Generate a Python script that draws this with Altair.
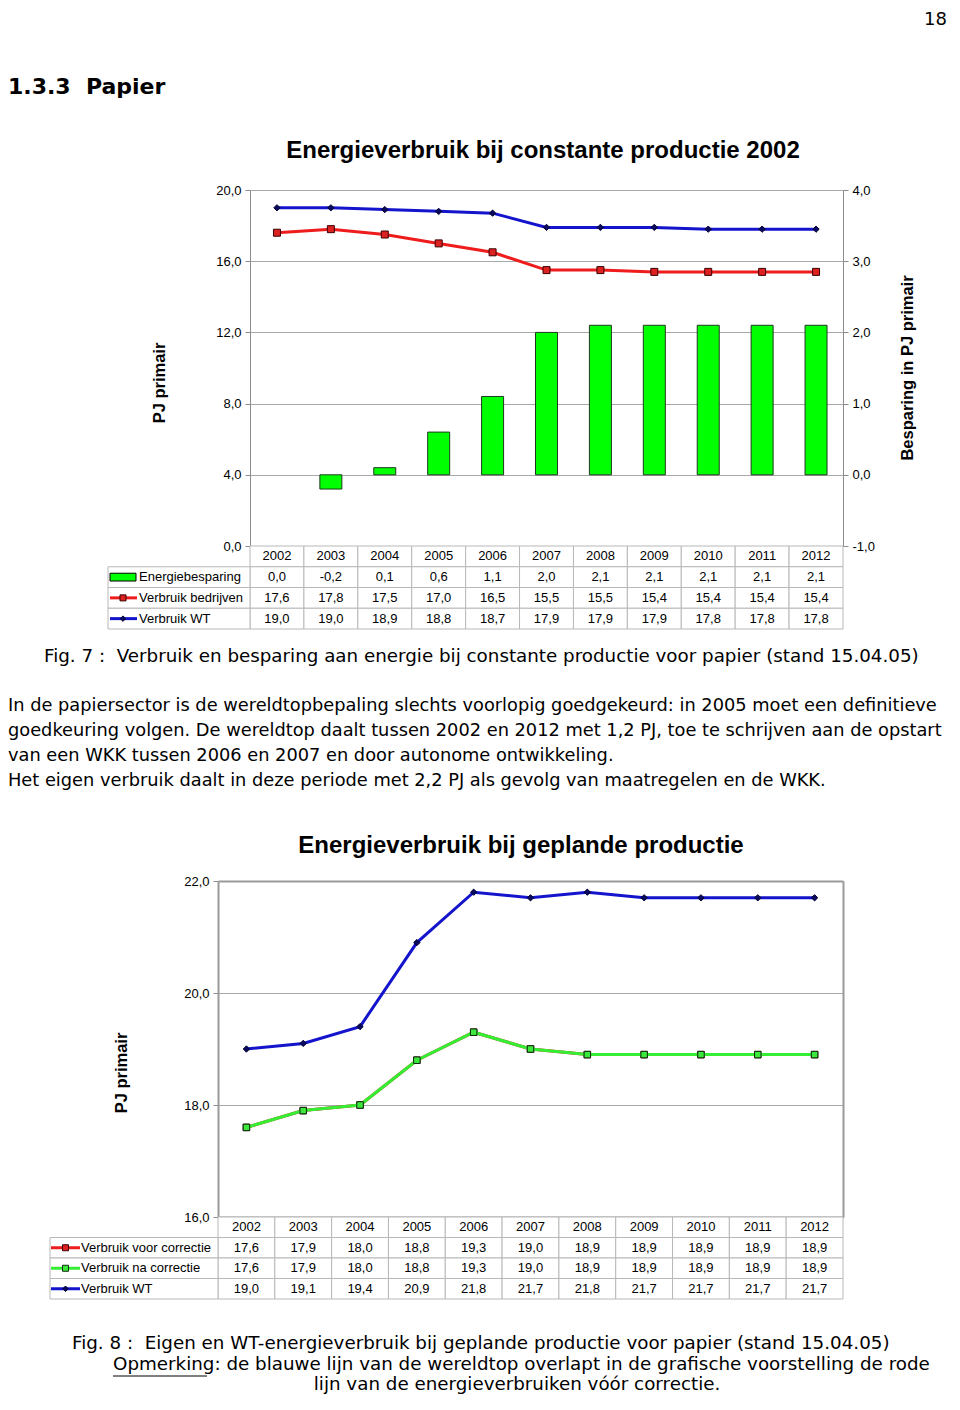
import altair as alt
import pandas as pd

# ---------------- data ----------------
years = ["2002", "2003", "2004", "2005", "2006", "2007", "2008", "2009", "2010", "2011", "2012"]

# Figure 7 (constante productie 2002)
besparing = [0.0, -0.2, 0.1, 0.6, 1.1, 2.0, 2.1, 2.1, 2.1, 2.1, 2.1]
verbruik_bedrijven = [17.6, 17.8, 17.5, 17.0, 16.5, 15.5, 15.5, 15.4, 15.4, 15.4, 15.4]
verbruik_wt_1 = [19.0, 19.0, 18.9, 18.8, 18.7, 17.9, 17.9, 17.9, 17.8, 17.8, 17.8]
left_ticks_1 = [0, 4, 8, 12, 16, 20]
right_ticks_1 = [-1, 0, 1, 2, 3, 4]
rows_1 = ["hdr", "Energiebesparing", "Verbruik bedrijven", "Verbruik WT"]

# Figure 8 (geplande productie)
voor_correctie = [17.6, 17.9, 18.0, 18.8, 19.3, 19.0, 18.9, 18.9, 18.9, 18.9, 18.9]
na_correctie = [17.6, 17.9, 18.0, 18.8, 19.3, 19.0, 18.9, 18.9, 18.9, 18.9, 18.9]
verbruik_wt_2 = [19.0, 19.1, 19.4, 20.9, 21.8, 21.7, 21.8, 21.7, 21.7, 21.7, 21.7]
left_ticks_2 = [16, 18, 20, 22]
rows_2 = ["hdr", "Verbruik voor correctie", "Verbruik na correctie", "Verbruik WT"]

paragraph = [
    "In de papiersector is de wereldtopbepaling slechts voorlopig goedgekeurd: in 2005 moet een definitieve",
    "goedkeuring volgen. De wereldtop daalt tussen 2002 en 2012 met 1,2 PJ, toe te schrijven aan de opstart",
    "van een WKK tussen 2006 en 2007 en door autonome ontwikkeling.",
    "Het eigen verbruik daalt in deze periode met 2,2 PJ als gevolg van maatregelen en de WKK.",
]

# ---------------- layout (page coordinates -> view coordinates) ----------------
W, H = 944, 1388
OX, OY = 8, 8


def px(x):
    return x - OX


def py(y):
    return y - OY


CHART_FONT = "Liberation Sans"
PAGE_FONT = "DejaVu Sans"
FMT = "(datum.value < 0 ? '-' : '') + replace(format(abs(datum.value), '.1f'), '.', ',')"


def fmt(v):
    return f"{v:.1f}".replace(".", ",")


def band(domain, rng):
    return alt.Scale(type="band", domain=domain, range=rng, paddingInner=0, paddingOuter=0)


X1 = band(years, [px(250), px(843)])
X2 = band(years, [px(218), px(843)])
Y1L = alt.Scale(domain=[0, 20], range=[py(546), py(190)], nice=False, zero=False)
Y1R = alt.Scale(domain=[-1, 4], range=[py(546), py(190)], nice=False, zero=False)
Y2 = alt.Scale(domain=[16, 22], range=[py(1217), py(881)], nice=False, zero=False)
R1 = band(rows_1, [py(546), py(629)])
R2 = band(rows_2, [py(1217), py(1299)])
L1 = band(["legend"], [px(108), px(250)])
L2 = band(["legend"], [px(50), px(218)])

GRID = "#a8a8a8"
AX = "#8c8c8c"
TABLE = "#b8b8b8"
BORDER = "#9a9a9a"

df1 = pd.DataFrame({"year": years, "besparing": besparing,
                    "bedrijven": verbruik_bedrijven, "wt": verbruik_wt_1})
df2 = pd.DataFrame({"year": years, "voor": voor_correctie,
                    "na": na_correctie, "wt": verbruik_wt_2})

layers = []

# ---------------- Figure 7 chart ----------------
ax1L = alt.Axis(orient="left", offset=-px(250), values=left_ticks_1, labelExpr=FMT,
                grid=True, gridColor=GRID, gridWidth=1, domainColor=AX, domainWidth=1,
                tickColor=AX, tickSize=5, labelFont=CHART_FONT, labelFontSize=13,
                labelColor="black", labelPadding=4, title=None)
ax1R = alt.Axis(orient="right", offset=-(W - px(843)), values=right_ticks_1, labelExpr=FMT,
                grid=False, domainColor=AX, domainWidth=1, tickColor=AX, tickSize=5,
                labelFont=CHART_FONT, labelFontSize=13, labelColor="black",
                labelPadding=4, title=None)

xa1 = alt.X("year:N", scale=X1, axis=None)

layers.append(alt.Chart(df1).mark_bar(size=22, fill="#00ff00", strokeWidth=1)
              .encode(x=xa1, y=alt.Y("besparing:Q", scale=Y1R, axis=ax1R),
                      stroke=alt.condition("datum.besparing == 0", alt.value("transparent"),
                                           alt.value("#1e3a1e"))))
layers.append(alt.Chart(df1).mark_line(color="#ee1c1c", strokeWidth=3)
              .encode(x=xa1, y=alt.Y("bedrijven:Q", scale=Y1L, axis=ax1L)))
layers.append(alt.Chart(df1).mark_point(shape="square", size=49, filled=True, fill="#dd2020",
                                        stroke="#3a0000", strokeWidth=1, opacity=1)
              .encode(x=xa1, y=alt.Y("bedrijven:Q", scale=Y1L, axis=None)))
layers.append(alt.Chart(df1).mark_line(color="#1414cc", strokeWidth=3)
              .encode(x=xa1, y=alt.Y("wt:Q", scale=Y1L, axis=None)))
layers.append(alt.Chart(df1).mark_point(shape="diamond", size=40, filled=True, fill="#0a0a60",
                                        stroke="#000030", strokeWidth=1, opacity=1)
              .encode(x=xa1, y=alt.Y("wt:Q", scale=Y1L, axis=None)))

# table 1
tab1 = []
for i, y in enumerate(years):
    tab1.append({"year": y, "row": "hdr", "label": y})
    tab1.append({"year": y, "row": rows_1[1], "label": fmt(besparing[i])})
    tab1.append({"year": y, "row": rows_1[2], "label": fmt(verbruik_bedrijven[i])})
    tab1.append({"year": y, "row": rows_1[3], "label": fmt(verbruik_wt_1[i])})
tab1 = pd.DataFrame(tab1)
ya1 = alt.Y("row:N", scale=R1, axis=None)
layers.append(alt.Chart(tab1).mark_rect(fill="white", stroke=TABLE, strokeWidth=1)
              .encode(x=xa1, y=ya1))
layers.append(alt.Chart(tab1).mark_text(font=CHART_FONT, fontSize=13, color="black")
              .encode(x=xa1, y=ya1, text="label:N"))
leg1 = pd.DataFrame({"col": ["legend"] * 3, "row": rows_1[1:]})
layers.append(alt.Chart(leg1).mark_rect(fill="white", stroke=TABLE, strokeWidth=1)
              .encode(x=alt.X("col:N", scale=L1, axis=None), y=ya1))
layers.append(alt.Chart(leg1).mark_text(font=CHART_FONT, fontSize=13, color="black", align="left")
              .encode(x=alt.value(px(139)), y=ya1, text="row:N"))
# legend swatches table 1
layers.append(alt.Chart(pd.DataFrame({"row": [rows_1[1]]}))
              .mark_point(shape="M-1,-0.3L1,-0.3L1,0.3L-1,0.3Z", size=676, filled=True,
                          fill="#00ff00", stroke="black", strokeWidth=1, opacity=1)
              .encode(x=alt.value(px(123)), y=ya1))
for row, lc, pf, ps, shape in [
    (rows_1[2], "#ee1c1c", "#dd2020", "#3a0000", "square"),
    (rows_1[3], "#1414cc", "#0a0a60", "#000030", "diamond"),
]:
    d = pd.DataFrame({"row": [row]})
    layers.append(alt.Chart(d).mark_rule(color=lc, strokeWidth=3)
                  .encode(x=alt.value(px(110)), x2=alt.value(px(137)), y=ya1))
    layers.append(alt.Chart(d).mark_point(shape=shape, size=36 if shape == "square" else 30,
                                          filled=True, fill=pf, stroke=ps, strokeWidth=1, opacity=1)
                  .encode(x=alt.value(px(123)), y=ya1))

# ---------------- Figure 8 chart ----------------
ax2L = alt.Axis(orient="left", offset=-px(218), values=left_ticks_2, labelExpr=FMT,
                grid=True, gridColor=GRID, gridWidth=1, domainColor=BORDER, domainWidth=2,
                tickColor=AX, tickSize=5, labelFont=CHART_FONT, labelFontSize=13,
                labelColor="black", labelPadding=4, title=None)
ax2R = alt.Axis(orient="right", offset=-(W - px(843)), labels=False, ticks=False, grid=False,
                domainColor=BORDER, domainWidth=2, title=None)
ax2T = alt.Axis(orient="top", offset=-py(881), labels=False, ticks=False, grid=False,
                domainColor=BORDER, domainWidth=2, title=None)
ax2B = alt.Axis(orient="bottom", offset=-(H - py(1217)), labels=False, ticks=False, grid=False,
                domainColor=BORDER, domainWidth=2, title=None)

xa2 = alt.X("year:N", scale=X2, axis=None)

layers.append(alt.Chart(df2).mark_line(color="#ee1c1c", strokeWidth=3)
              .encode(x=alt.X("year:N", scale=X2, axis=ax2T),
                      y=alt.Y("voor:Q", scale=Y2, axis=ax2L)))
layers.append(alt.Chart(df2).mark_point(shape="square", size=42, filled=True, fill="#dd2020",
                                        stroke="#3a0000", strokeWidth=1, opacity=1)
              .encode(x=xa2, y=alt.Y("voor:Q", scale=Y2, axis=None)))
layers.append(alt.Chart(df2).mark_line(color="#33ee33", strokeWidth=3)
              .encode(x=alt.X("year:N", scale=X2, axis=ax2B),
                      y=alt.Y("na:Q", scale=Y2, axis=ax2R)))
layers.append(alt.Chart(df2).mark_point(shape="square", size=42, filled=True, fill="#3ce83c",
                                        stroke="#0f2a0f", strokeWidth=1, opacity=1)
              .encode(x=xa2, y=alt.Y("na:Q", scale=Y2, axis=None)))
layers.append(alt.Chart(df2).mark_line(color="#1414cc", strokeWidth=3)
              .encode(x=xa2, y=alt.Y("wt:Q", scale=Y2, axis=None)))
layers.append(alt.Chart(df2).mark_point(shape="diamond", size=40, filled=True, fill="#0a0a60",
                                        stroke="#000030", strokeWidth=1, opacity=1)
              .encode(x=xa2, y=alt.Y("wt:Q", scale=Y2, axis=None)))

# table 2
tab2 = []
for i, y in enumerate(years):
    tab2.append({"year": y, "row": "hdr", "label": y})
    tab2.append({"year": y, "row": rows_2[1], "label": fmt(voor_correctie[i])})
    tab2.append({"year": y, "row": rows_2[2], "label": fmt(na_correctie[i])})
    tab2.append({"year": y, "row": rows_2[3], "label": fmt(verbruik_wt_2[i])})
tab2 = pd.DataFrame(tab2)
ya2 = alt.Y("row:N", scale=R2, axis=None)
layers.append(alt.Chart(tab2).mark_rect(fill="white", stroke=TABLE, strokeWidth=1)
              .encode(x=xa2, y=ya2))
layers.append(alt.Chart(tab2).mark_text(font=CHART_FONT, fontSize=13, color="black")
              .encode(x=xa2, y=ya2, text="label:N"))
leg2 = pd.DataFrame({"col": ["legend"] * 3, "row": rows_2[1:]})
layers.append(alt.Chart(leg2).mark_rect(fill="white", stroke=TABLE, strokeWidth=1)
              .encode(x=alt.X("col:N", scale=L2, axis=None), y=ya2))
layers.append(alt.Chart(leg2).mark_text(font=CHART_FONT, fontSize=13, color="black", align="left")
              .encode(x=alt.value(px(81)), y=ya2, text="row:N"))
for row, lc, pf, ps, shape in [
    (rows_2[1], "#ee1c1c", "#dd2020", "#3a0000", "square"),
    (rows_2[2], "#33ee33", "#3ce83c", "#0f2a0f", "square"),
    (rows_2[3], "#1414cc", "#0a0a60", "#000030", "diamond"),
]:
    d = pd.DataFrame({"row": [row]})
    layers.append(alt.Chart(d).mark_rule(color=lc, strokeWidth=3)
                  .encode(x=alt.value(px(51)), x2=alt.value(px(80)), y=ya2))
    layers.append(alt.Chart(d).mark_point(shape=shape, size=36 if shape == "square" else 30,
                                          filled=True, fill=pf, stroke=ps, strokeWidth=1, opacity=1)
                  .encode(x=alt.value(px(65.5)), y=ya2))


# ---------------- page text ----------------
def txt(s, x, y, size, font=PAGE_FONT, weight="normal", align="left", angle=0):
    return (alt.Chart(pd.DataFrame({"t": [s]}))
            .mark_text(font=font, fontSize=size, fontWeight=weight, align=align,
                       baseline="middle", angle=angle, color="black")
            .encode(x=alt.value(px(x)), y=alt.value(py(y)), text="t:N"))


layers.append(txt("18", 947, 20, 18, align="right"))
layers.append(txt("1.3.3\u00a0 Papier", 8, 87, 22, weight="bold"))
layers.append(txt("Energieverbruik bij constante productie 2002", 543, 151, 24,
                  font=CHART_FONT, weight="bold", align="center"))
layers.append(txt("PJ primair", 160, 383, 16.5, font=CHART_FONT, weight="bold",
                  align="center", angle=270))
layers.append(txt("Besparing in PJ primair", 908, 368, 16.5, font=CHART_FONT, weight="bold",
                  align="center", angle=270))
layers.append(txt("Fig. 7 :\u00a0 Verbruik en besparing aan energie bij constante productie voor papier (stand 15.04.05)",
                  44, 657, 18.3))
for i, line in enumerate(paragraph):
    layers.append(txt(line, 8, 706 + 25 * i, 17.8))
layers.append(txt("Energieverbruik bij geplande productie", 521, 846, 24,
                  font=CHART_FONT, weight="bold", align="center"))
layers.append(txt("PJ primair", 122, 1073, 16.5, font=CHART_FONT, weight="bold",
                  align="center", angle=270))
layers.append(txt("Fig. 8 :\u00a0 Eigen en WT-energieverbruik bij geplande productie voor papier (stand 15.04.05)",
                  72, 1344, 18.3))
layers.append(txt("Opmerking: de blauwe lijn van de wereldtop overlapt in de grafische voorstelling de rode",
                  113, 1365, 18.3))
layers.append(alt.Chart(pd.DataFrame({"t": ["u"]})).mark_rule(color="black", strokeWidth=1)
              .encode(x=alt.value(px(113)), x2=alt.value(px(207)), y=alt.value(py(1376))))
layers.append(txt("lijn van de energieverbruiken vóór correctie.", 517, 1385, 18.3, align="center"))

chart = (alt.layer(*layers)
         .resolve_scale(x="independent", y="independent")
         .properties(width=W, height=H, autosize=alt.AutoSizeParams(type="none"),
                     padding=0, background="white")
         .configure_view(stroke=None))

chart.save("out.html", embed_options={"renderer": "svg", "actions": False})
